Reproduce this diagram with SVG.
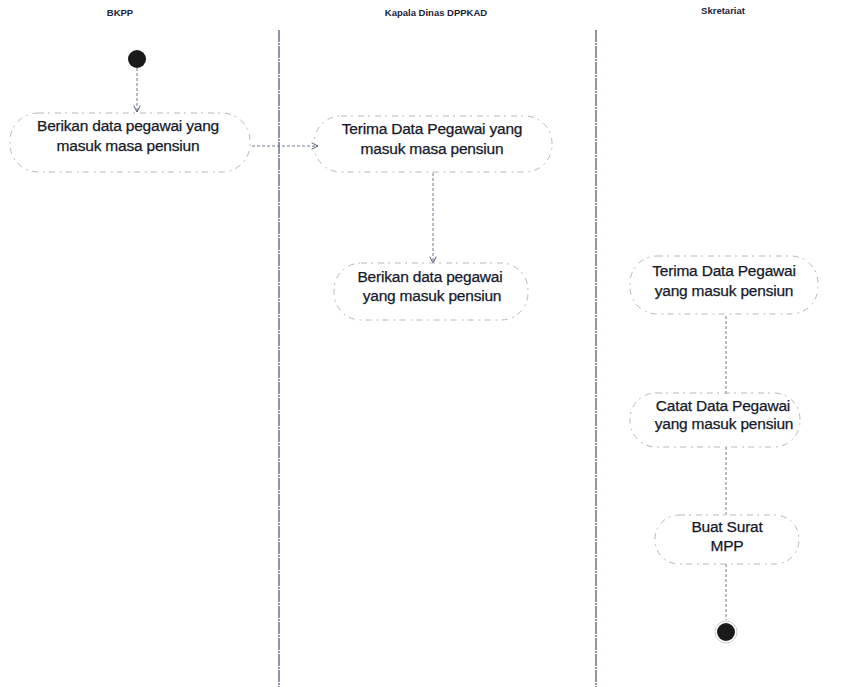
<svg xmlns="http://www.w3.org/2000/svg" width="867" height="687" viewBox="0 0 867 687">
  <style>
    .lane { stroke: #34405e; stroke-width: 1.1; stroke-dasharray: 12 1 2 1; fill: none; }
    .hdr { font-family: "Liberation Sans", Arial, sans-serif; font-size: 9.5px; font-weight: bold; fill: #1c2238; text-anchor: middle; }
    .act rect { fill: none; stroke: #b3b8c3; stroke-width: 1; stroke-dasharray: 6 4 2 5; }
    .act text { font-family: "Liberation Sans", Arial, sans-serif; font-size: 15.5px; fill: #141829; text-anchor: middle; stroke: #141829; stroke-width: 0.25; letter-spacing: -0.2px; }
    .flow { stroke: #6f7890; stroke-width: 1; stroke-dasharray: 3 2; fill: none; }
    .node-dot { fill: #1a1a1a; }
  </style>
  <defs>
    <marker id="open" viewBox="0 0 10 10" refX="9" refY="5" markerWidth="8" markerHeight="8" orient="auto">
      <path d="M1 1 L9 5 L1 9" fill="none" stroke="#4b5570" stroke-width="1.2"/>
    </marker>
  </defs>

  <rect width="867" height="687" fill="#ffffff"/>

  <!-- swimlane headers and separators -->
  <g id="lanes">
    <text class="hdr" x="120" y="16">BKPP</text>
    <text class="hdr" x="436" y="16">Kapala Dinas DPPKAD</text>
    <text class="hdr" x="723" y="14">Skretariat</text>
    <line class="lane" x1="279" y1="30" x2="279" y2="687"/>
    <line class="lane" x1="596" y1="30" x2="596" y2="687"/>
  </g>

  <!-- connectors -->
  <g id="connectors">
    <line class="flow" x1="137" y1="68" x2="137" y2="112" marker-end="url(#open)"/>
    <line class="flow" x1="252" y1="146" x2="318" y2="146" marker-end="url(#open)"/>
    <line class="flow" x1="433" y1="173" x2="433" y2="263" marker-end="url(#open)"/>
    <line class="flow" x1="726" y1="316" x2="726" y2="394"/>
    <line class="flow" x1="726" y1="447" x2="726" y2="515"/>
    <line class="flow" x1="726" y1="564" x2="726" y2="620"/>
  </g>

  <g id="start">
    <circle class="node-dot" cx="137" cy="59" r="9"/>
  </g>

  <g id="bkpp-berikan" class="act">
    <rect x="10" y="113" width="240" height="59" rx="28"/>
    <text x="128" y="131">Berikan data pegawai yang</text>
    <text x="128" y="151">masuk masa pensiun</text>
  </g>

  <g id="kadis-terima" class="act">
    <rect x="314" y="116" width="238" height="56" rx="27"/>
    <text x="432" y="134">Terima Data Pegawai yang</text>
    <text x="432" y="154">masuk masa pensiun</text>
  </g>

  <g id="kadis-berikan" class="act">
    <rect x="334" y="263" width="194" height="57" rx="27"/>
    <text x="430" y="282">Berikan data pegawai</text>
    <text x="432" y="301">yang masuk pensiun</text>
  </g>

  <g id="sekr-terima" class="act">
    <rect x="630" y="256" width="188" height="58" rx="27"/>
    <text x="724" y="276">Terima Data Pegawai</text>
    <text x="724" y="296">yang masuk pensiun</text>
  </g>

  <g id="sekr-catat" class="act">
    <rect x="630" y="393" width="170" height="54" rx="26"/>
    <text x="723" y="411">Catat Data Pegawai</text>
    <text x="724" y="429">yang masuk pensiun</text>
  </g>

  <g id="sekr-buat" class="act">
    <rect x="655" y="515" width="144" height="49" rx="24"/>
    <text x="727" y="532">Buat Surat</text>
    <text x="727" y="551">MPP</text>
  </g>

  <g id="end">
    <circle cx="726" cy="632" r="11" fill="none" stroke="#c9ccd4" stroke-width="1"/>
    <circle class="node-dot" cx="726" cy="632" r="9"/>
  </g>
</svg>
